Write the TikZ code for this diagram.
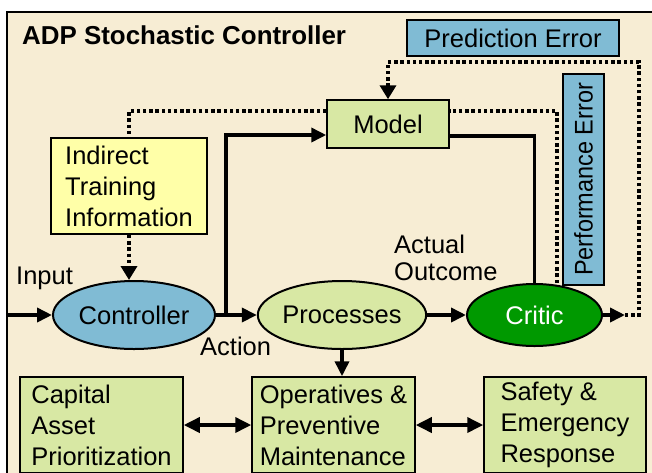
\documentclass[tikz,border=0pt]{standalone}
\usepackage{fontspec}
\setmainfont{Liberation Sans}
\usetikzlibrary{arrows.meta,shapes.geometric}
\definecolor{bgc}{HTML}{F7EDD4}
\definecolor{bluec}{HTML}{80BBD4}
\definecolor{lgreen}{HTML}{D8E8A4}
\definecolor{yel}{HTML}{FFFFA8}
\definecolor{dgreen}{HTML}{009900}
\begin{document}
\begin{tikzpicture}[x=1pt,y=-1pt,
  every node/.style={font=\fontsize{25.5}{31}\selectfont, inner sep=0pt},
  rbox/.style={draw, rectangle, align=left, line width=1.5pt},
  ell/.style={draw, ellipse, line width=2pt},
  thickln/.style={line width=3.6pt},
  tharrow/.style={thickln, -{Triangle[length=15pt,width=14pt]}},
  dbarrow/.style={thickln, {Triangle[length=16pt,width=15pt]}-{Triangle[length=16pt,width=15pt]}},
  dotln/.style={line width=3.6pt, dash pattern=on 3.4pt off 2.8pt},
  dotarrow/.style={dotln, -{Triangle[length=14pt,width=16pt]}},
]
\useasboundingbox (0,0) rectangle (652,472);
\clip (0,0) rectangle (652,472);
\fill[white] (0,0) rectangle (652,472);
\draw[line width=1.2pt, fill=bgc] (7,12) rectangle (690,520);

% title
\node[anchor=base west, font=\bfseries\fontsize{25.9}{31}\selectfont] (title) at (22,44) {ADP Stochastic Controller};

% boxes
\node[rbox, fill=bluec, line width=2.5pt, minimum width=212, minimum height=36] (pred) at (513,38) {Prediction Error};
\node[rbox, fill=lgreen, minimum width=122, minimum height=48] (model) at (388,124) {Model};
\node[rbox, fill=bluec, line width=2pt, rotate=90, minimum width=211, minimum height=41] (perf) at (583.5,179.5) {\scalebox{0.92}[1]{Performance Error}};
\node[rbox, fill=yel, line width=2pt, minimum width=156, minimum height=96] (ind) at (129,186) {Indirect\\Training\\Information};
\node[rbox, fill=lgreen, minimum width=163, minimum height=96] (cap) at (101.5,425) {Capital\\Asset\\Prioritization};
\node[rbox, fill=lgreen, minimum width=163, minimum height=96] (ops) at (333.5,425) {Operatives \&\\Preventive\\Maintenance};
\node[rbox, fill=lgreen, minimum width=162, minimum height=96] (saf) at (565,425) {Safety \&\\Emergency\\Response};

% ellipses
\node[ell, fill=bluec, minimum width=162, minimum height=68] (ctrl) at (134,315) {Controller};
\node[ell, fill=lgreen, minimum width=166, minimum height=68] (proc) at (342,315) {Processes};
\node[ell, fill=dgreen, text=white, minimum width=135, minimum height=62] (crit) at (534.5,315) {Critic};

% labels
\node[anchor=base west] (inputlbl) at (16,284) {Input};
\node[anchor=base west] (actionlbl) at (200,355) {Action};
\node[anchor=base west] (actlbl) at (394,253) {Actual};
\node[anchor=base west] (outlbl) at (394,280) {Outcome};

% coordinates
\coordinate (inp) at (8,315);
\coordinate (act) at (226,315);
\coordinate (up) at (226,135);
\coordinate (mr) at (533,136);
\coordinate (ctip) at (625,315);
\coordinate (pe1) at (639,62);
\coordinate (pd) at (557,111);

% solid connectors
\draw[tharrow] (inp) -- (ctrl.west);
\draw[tharrow] (ctrl.east) -- (proc.west);
\draw[tharrow] (act) -- (up) -- (model.west |- up);
\draw[thickln] (model.east |- mr) -| (crit.north);
\draw[tharrow] (proc.east) -- (crit.west);
\draw[tharrow] (crit.east) -- (ctip);
\draw[tharrow] (proc.south) -- (proc.south |- ops.north);
\draw[dbarrow] (cap.east) -- (ops.west);
\draw[dbarrow] (ops.east) -- (saf.west);

% dotted connectors
\draw[dotarrow] (ctip) -| (pe1) -| (model.north);
\draw[dotln] (pd |- crit.north) -- (pd) -- (model.east |- pd);
\draw[dotln] (model.west |- pd) -| (ind.north);
\draw[dotarrow] (ind.south) -- (ind.south |- ctrl.north);
\end{tikzpicture}
\end{document}
